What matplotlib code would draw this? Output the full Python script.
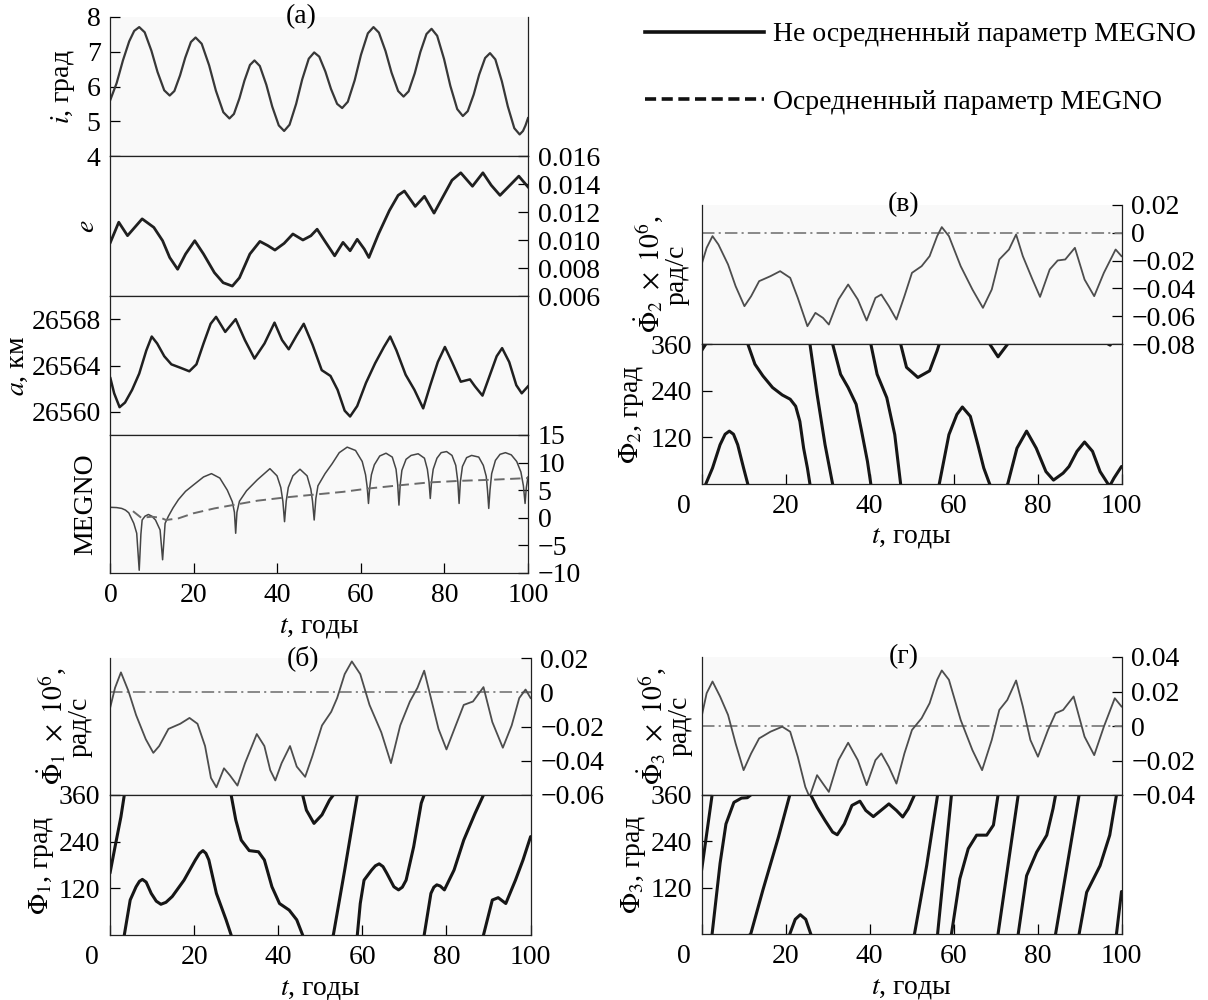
#!/usr/bin/python3
"""
MEGNO / orbital elements figure: panels (a), (б), (в), (г)
"""

import numpy as np
import matplotlib
matplotlib.use('Agg')
from matplotlib import pyplot as plt
from matplotlib.lines import Line2D

# ---- data (t in years) ----
incl_t = [0, 1.5, 3.0, 4.5, 5.7, 6.9, 8.21, 9.82, 11.28, 12.89, 14.2, 15.32, 16.68, 17.92, 19.28, 20.4,
          21.86, 23.64, 25.26, 27.04, 28.5, 29.58, 30.9, 32.1, 33.42, 34.5, 35.78, 37.34, 38.76, 40.32, 41.6,
          42.9, 44.48, 45.92, 47.5, 48.8, 50.01, 51.48, 52.82, 54.29, 55.5, 56.85, 58.5, 60.0, 61.65, 63.0,
          64.3, 65.88, 67.32, 68.9, 70.2, 71.41, 72.88, 74.22, 75.69, 76.9, 78.25, 79.9, 81.4, 83.05, 84.4,
          85.57, 87.0, 88.3, 89.73, 90.9, 92.18, 93.74, 95.16, 96.72, 98.0, 98.8, 99.4, 100]
incl_v = [5.62, 6.1, 6.75, 7.3, 7.6, 7.71, 7.56, 7.03, 6.42, 5.89, 5.74, 5.87, 6.32, 6.83, 7.28, 7.41,
          7.23, 6.61, 5.88, 5.26, 5.08, 5.21, 5.66, 6.17, 6.62, 6.75, 6.59, 6.05, 5.42, 4.88, 4.72,
          4.90, 5.50, 6.20, 6.80, 6.98, 6.86, 6.43, 5.93, 5.50, 5.38, 5.56, 6.18, 6.91, 7.53, 7.71,
          7.55, 7.02, 6.40, 5.87, 5.71, 5.86, 6.38, 6.99, 7.51, 7.66, 7.46, 6.79, 6.02, 5.35, 5.15,
          5.29, 5.77, 6.34, 6.82, 6.96, 6.78, 6.15, 5.43, 4.80, 4.62, 4.72, 4.88, 5.09]

ecc_t = [0, 2.0, 4.1, 7.6, 10.4, 12.5, 14.2, 16.1, 18.0, 20.2, 22.3, 24.9, 27.0, 29.2, 30.9, 33.4, 35.8, 37.7,
         39.4, 41.6, 43.7, 46.1, 48.0, 49.5, 51.4, 53.7, 55.7, 57.4, 59.1, 60.8, 61.9, 64.2, 66.8, 68.9, 70.4,
         73.0, 75.2, 77.5, 79.6, 81.8, 83.9, 86.7, 89.2, 91.2, 93.3, 95.9, 97.8, 100]
ecc_v = [0.00983, 0.01127, 0.01031, 0.01151, 0.0109, 0.00995, 0.00875, 0.00791, 0.0090, 0.00995, 0.0090,
         0.00767, 0.00695, 0.00671, 0.0073, 0.0090, 0.0099, 0.0096, 0.00928, 0.00976, 0.01043, 0.0100,
         0.0103, 0.01077, 0.0099, 0.00887, 0.00983, 0.00923, 0.01005, 0.00935, 0.00875, 0.01043, 0.0121,
         0.01319, 0.0135, 0.0124, 0.01312, 0.01192, 0.01307, 0.01427, 0.0148, 0.01384, 0.0148, 0.01391,
         0.01319, 0.01398, 0.01456, 0.01379]

sma_t = [0, 0.9, 2.2, 3.5, 5.2, 6.9, 8.6, 9.9, 11.2, 12.9, 14.6, 16.8, 18.9, 20.6, 22.3, 24.0, 25.3, 27.5,
         30.0, 32.2, 34.5, 36.9, 39.3, 41.1, 42.7, 44.6, 46.3, 48.4, 50.6, 52.7, 54.4, 56.1, 57.4, 59.1, 61.2,
         63.4, 65.5, 67.0, 68.5, 70.7, 72.8, 74.9, 76.6, 78.4, 80.1, 81.8, 83.9, 86.1, 87.3, 89.1, 90.8, 92.5,
         93.8, 95.5, 97.2, 98.5, 100]
sma_v = [26562.9, 26561.6, 26560.4, 26560.8, 26561.9, 26563.3, 26565.3, 26566.5, 26565.9, 26564.8, 26564.1,
         26563.8, 26563.5, 26564.1, 26565.9, 26567.6, 26568.2, 26566.9, 26568.0, 26566.2, 26564.6, 26565.9,
         26567.7, 26566.2, 26565.4, 26566.6, 26567.6, 26565.8, 26563.6, 26563.1, 26561.9, 26560.1, 26559.6,
         26560.5, 26562.5, 26564.2, 26565.6, 26566.5, 26565.3, 26563.2, 26561.9, 26560.3, 26562.3, 26564.3,
         26565.6, 26564.3, 26562.6, 26562.8, 26562.2, 26561.4, 26563.1, 26564.8, 26565.5, 26564.3, 26562.3,
         26561.6, 26562.2]

megno_t = [0, 1.5, 2.7, 3.6, 4.4, 5.6, 6.3, 6.9, 7.3, 7.6, 8.3, 9.1, 9.9, 10.8, 11.9, 12.5, 13.1, 13.9, 15.0,
           16.3, 18.0, 19.8, 22.3, 24.2, 26.2, 28.0, 29.2, 29.7, 30.0, 30.3, 30.9, 32.6, 35.2, 38.2, 39.9,
           40.8, 41.3, 41.7, 42.1, 42.6, 43.7, 45.4, 47.1, 48.0, 48.4, 48.8, 49.2, 49.7, 51.4, 53.1, 54.8,
           56.7, 58.7, 60.3, 61.1, 61.5, 61.8, 62.1, 62.5, 63.2, 64.5, 66.0, 67.5, 68.4, 68.8, 69.1, 69.4,
           69.8, 70.8, 72.0, 73.7, 75.2, 75.9, 76.3, 76.6, 76.9, 77.3, 78.2, 79.2, 80.5, 81.8, 82.7, 83.2,
           83.5, 83.8, 84.3, 85.3, 86.5, 88.2, 89.3, 90.0, 90.3, 90.6, 90.9, 91.3, 92.2, 93.3, 94.6, 96.0,
           97.3, 98.3, 98.9, 99.3, 99.6, 100]
megno_v = [1.9, 1.85, 1.7, 1.4, 0.9, -1.0, -2.8, -9.5, -3.0, -0.4, 0.3, 0.6, 0.3, -0.4, -2.2, -7.6, -1.0, 0.3,
           1.8, 3.3, 4.8, 5.9, 7.4, 8.0, 7.2, 5.0, 2.9, 1.0, -2.8, 1.0, 3.0, 4.9, 6.9, 8.9, 7.6, 5.5, 3.0, -0.7,
           3.0, 5.5, 7.6, 8.8, 7.6, 5.2, 3.0, -0.4, 3.5, 5.8, 8.0, 9.8, 11.8, 12.8, 12.2, 10.2, 7.8, 5.5, 2.6,
           5.5, 7.8, 9.6, 11.2, 11.7, 11.0, 8.8, 6.0, 2.3, 6.0, 8.6, 10.6, 11.3, 11.6, 10.8, 8.8, 6.5, 3.5,
           6.5, 8.8, 10.8, 11.8, 12.0, 11.3, 9.5, 6.5, 2.6, 6.5, 9.3, 10.9, 11.3, 11.0, 9.5, 7.5, 5.0, 1.7,
           5.0, 8.0, 10.4, 11.5, 11.8, 11.4, 10.2, 8.3, 5.8, 2.6, 5.5, 7.4]

megno_avg_t = [5.4, 7.4, 9.9, 12.1, 13.3, 16.3, 19.8, 24.9, 30.0, 35.2, 42.0, 48.8, 55.7, 61.7, 69.4, 76.2,
               83.9, 91.6, 100]
megno_avg_v = [1.2, 0.0, 0.2, 0.0, -0.4, -0.1, 0.8, 1.7, 2.4, 3.1, 3.7, 4.2, 4.7, 5.3, 5.9, 6.4, 6.7, 6.9, 7.2]

# resonance angle rates (x 1e6 rad/s)
dphi1_t = [0, 1.2, 2.6, 4.4, 6.2, 8.5, 10.3, 11.7, 13.9, 16.7, 18.9, 20.8, 22.6, 24.0, 25.3, 27.1, 28.5,
           30.3, 32.1, 34.9, 36.7, 38.1, 39.3, 40.8, 42.8, 44.4, 46.4, 48.1, 50.4, 52.6, 54.0, 55.8, 57.5,
           59.5, 61.7, 64.5, 66.8, 69.0, 71.3, 73.1, 74.7, 76.3, 78.1, 80.0, 82.2, 84.1, 86.3, 88.8, 90.9,
           93.4, 95.5, 97.3, 98.8, 100]
dphi1_v = [-0.0094, 0.0026, 0.0116, 0.0006, -0.0133, -0.0274, -0.0354, -0.0314, -0.0214, -0.0184, -0.015,
           -0.0184, -0.0314, -0.050, -0.0555, -0.0444, -0.0485, -0.0545, -0.0414, -0.0244, -0.0314, -0.0455,
           -0.0515, -0.0414, -0.0314, -0.0434, -0.0494, -0.0374, -0.0194, -0.0114, -0.0034, 0.0106, 0.018,
           0.0106, -0.0074, -0.0234, -0.0414, -0.0194, -0.0054, 0.0026, 0.0126, -0.0034, -0.0214, -0.0334,
           -0.0194, -0.0074, -0.0054, 0.003, -0.0174, -0.0324, -0.0194, -0.0034, 0.0016, -0.0034]

dphi2_t = [0, 1.2, 2.6, 4.0, 6.3, 8.1, 10.2, 11.8, 13.7, 16.4, 18.7, 21.1, 22.9, 25.2, 27.1, 28.9, 30.3,
           32.6, 34.9, 37.2, 39.3, 41.4, 42.8, 44.6, 46.4, 48.3, 50.1, 52.4, 54.3, 56.1, 57.2, 58.9, 61.7,
           64.5, 67.0, 69.1, 70.9, 73.2, 74.9, 76.5, 78.8, 80.6, 82.9, 84.8, 86.6, 88.9, 91.2, 93.5, 95.8,
           98.6, 100]
dphi2_v = [-0.0228, -0.0108, -0.0024, -0.0084, -0.0228, -0.0384, -0.0528, -0.0456, -0.0348, -0.0312, -0.0276,
           -0.0324, -0.0468, -0.0672, -0.0576, -0.0612, -0.066, -0.048, -0.0372, -0.048, -0.0631, -0.0468,
           -0.0444, -0.0528, -0.0624, -0.0456, -0.0288, -0.024, -0.0168, -0.0024, 0.0041, -0.0024, -0.024,
           -0.0408, -0.054, -0.0408, -0.0192, -0.012, -0.0012, -0.0168, -0.0336, -0.0461, -0.0264, -0.0199,
           -0.0192, -0.0108, -0.0336, -0.0456, -0.0288, -0.012, -0.0168]

dphi3_t = [0, 1.2, 2.6, 4.4, 6.3, 8.1, 10.0, 11.8, 13.7, 16.4, 19.2, 21.1, 22.9, 24.7, 25.7, 27.5, 28.9,
           30.3, 32.6, 34.9, 37.2, 39.3, 41.4, 42.8, 44.6, 46.4, 48.3, 50.1, 52.4, 54.3, 56.1, 57.2, 58.9,
           61.7, 64.5, 66.8, 69.1, 70.9, 72.8, 74.9, 76.5, 78.3, 80.1, 82.5, 84.3, 86.1, 88.6, 91.2, 93.5,
           95.8, 98.4, 100]
dphi3_v = [0.0054, 0.019, 0.0258, 0.0171, 0.0064, -0.0101, -0.0256, -0.0159, -0.0072, -0.0033, -0.0004,
           -0.0033, -0.0178, -0.0353, -0.0411, -0.0285, -0.0334, -0.0382, -0.0198, -0.0097, -0.0198, -0.0343,
           -0.0198, -0.0159, -0.0237, -0.0334, -0.0159, -0.0023, 0.0045, 0.0132, 0.0268, 0.0322, 0.0268,
           0.0035, -0.014, -0.0256, -0.0081, 0.0093, 0.0151, 0.0264, 0.0113, -0.0081, -0.0178, -0.0023,
           0.0074, 0.0093, 0.0171, -0.0062, -0.0169, -0.0004, 0.0161, 0.0113]

# resonance angles, unwrapped (deg); shown modulo 360
phi1_t = [0, 1.2, 2.6, 3.4, 4.8, 6.2, 7.0, 7.7, 8.6, 9.8, 11.0, 12.1, 13.3, 14.8, 17.6, 20.3, 21.3, 22.1,
          22.8, 23.5, 25.3, 27.6, 28.8, 29.9, 31.2, 33.1, 35.3, 36.7, 38.5, 40.3, 42.6, 44.4, 45.8, 46.7,
          48.5, 50.4, 52.2, 53.1, 55.8, 58.8, 59.5, 60.4, 62.2, 63.1, 64.0, 64.9, 65.8, 67.5, 68.6, 69.5,
          70.4, 72.2, 74.0, 74.7, 76.3, 77.0, 77.7, 78.5, 79.5, 81.8, 84.1, 86.8, 88.8, 90.9, 92.3, 94.1,
          96.4, 98.2, 100]
phi1_v = [159, 227, 304, 360, 450, 484, 498, 503, 496, 467, 447, 439, 444, 459, 501, 553, 570, 577,
          570, 553, 467, 399, 360, 296, 244, 217, 214, 193, 124, 81, 64, 39, 0, -39,
          -73, -51, -13, 0, 167, 360, 441, 501, 527, 538, 543, 536, 519, 484, 476, 483,
          501, 587, 699, 720, 827, 843, 849, 846, 836, 887, 964, 1033, 1080, 1170, 1176, 1161,
          1221, 1273, 1333]

phi2_t = [0, 1.0, 2.6, 4.4, 5.6, 6.6, 7.6, 8.6, 10.0, 11.0, 12.7, 14.6, 16.9, 19.2, 21.1, 22.4, 23.4, 24.3,
          25.2, 25.8, 27.5, 29.4, 31.2, 33.1, 34.9, 36.8, 38.1, 39.5, 40.3, 41.8, 44.1, 46.0, 47.4, 48.8,
          51.5, 54.3, 56.1, 56.6, 58.9, 60.8, 62.1, 64.0, 65.8, 67.2, 68.6, 70.6, 72.9, 75.1, 77.4, 79.7,
          82.0, 83.8, 86.1, 87.5, 89.4, 91.2, 93.1, 94.9, 96.8, 97.3, 98.2, 100]
phi2_v = [343, 360, 401, 461, 488, 496, 488, 461, 401, 360, 308, 278, 248, 229, 218, 200, 161, 92,
          41, 0, -129, -259, -360, -438, -472, -515, -584, -662, -720, -798, -858, -953, -1080, -1140,
          -1166, -1149, -1097, -1080, -953, -901, -882, -906, -979, -1039, -1080, -1113, -1080, -988, -944,
          -988, -1048, -1070, -1052, -1035, -996, -972, -996, -1048, -1080, -1083, -1065, -1035]

phi3_t = [0, 2.5, 4.4, 5.8, 7.7, 9.5, 10.9, 11.7, 14.6, 18.3, 21.0, 22.3, 23.5, 24.8, 26.0, 27.5, 29.4, 31.2,
          32.3, 34.0, 35.8, 37.7, 39.1, 40.9, 42.7, 44.6, 46.4, 47.9, 49.2, 50.7, 53.6, 56.2, 59.5, 61.5, 63.5,
          65.5, 67.9, 69.5, 70.6, 75.4, 77.4, 79.8, 82.2, 83.7, 84.3, 89.9, 91.7, 94.9, 97.2, 98.8, 100]
phi3_v = [165, 360, 543, 645, 701, 712, 713, 720, 834, 971, 1080, 1118, 1130, 1118, 1080, 1048, 1014, 984,
          977, 1005, 1053, 1064, 1040, 1024, 1040, 1057, 1040, 1023, 1044, 1080, 1257, 1440, 1800, 1943, 2021,
          2056, 2056, 2082, 2160, 2520, 2671, 2732, 2776, 2845, 2880, 3240, 3348, 3417, 3496, 3600, 3710]

FIG_W, FIG_H = 1208, 1000
FS = 20

plt.rcParams['font.family'] = ['Liberation Serif', 'DejaVu Serif']
plt.rcParams['mathtext.fontset'] = 'stix'
plt.rcParams['font.size'] = FS
plt.rcParams['lines.scale_dashes'] = False
plt.rcParams['axes.linewidth'] = 0.9
plt.rcParams['axes.edgecolor'] = '#222222'

T_LABEL = r'$t$, годы'
BG = '#f9f9f9'


def add_box(fig, left, right, top, bottom):
    """axes from pixel box (y measured from the top of the figure)"""
    ax = fig.add_axes([left / FIG_W, 1 - bottom / FIG_H, (right - left) / FIG_W, (bottom - top) / FIG_H])
    ax.set_facecolor(BG)
    ax.set_xlim(0, 100)
    ax.tick_params(direction='in', length=7, width=0.9, labelsize=FS, pad=7,
                   top=False, bottom=False, left=False, right=False,
                   labeltop=False, labelbottom=False, labelleft=False, labelright=False)
    return ax


def place_ylabel(ax, text, x_px):
    ax.set_ylabel(text, fontsize=FS, linespacing=1.0)
    box = ax.get_position()
    x0 = box.x0 * FIG_W
    w = box.width * FIG_W
    ax.yaxis.set_label_coords((x_px - x0) / w, 0.5)
    ax.yaxis.label.set_va('center')
    ax.yaxis.label.set_ha('center')


def bottom_axis(ax, shifted_zero=False):
    ax.tick_params(bottom=True, labelbottom=True)
    ax.set_xticks([0, 20, 40, 60, 80, 100])
    if shifted_zero:
        ax.set_xticklabels(['', '20', '40', '60', '80', '100'])
        ax.annotate('0', xy=(0, 0), xycoords=('data', 'axes fraction'), xytext=(-13, -7),
                    textcoords='offset points', ha='center', va='top', fontsize=FS)
    h = ax.get_position().height * FIG_H
    ax.set_xlabel(T_LABEL, fontsize=FS)
    ax.xaxis.set_label_coords(0.5, -54 / h)
    ax.xaxis.label.set_va('center')


def panel_title(ax, text, x):
    ax.text(x, 1.0, text, transform=ax.transAxes, ha='center', va='center', fontsize=FS)


def plot_wrapped(ax, t, phase):
    phase = np.asarray(phase, dtype=float)
    k_lo = int(np.floor(phase.min() / 360.0))
    k_hi = int(np.floor(phase.max() / 360.0))
    for k in range(k_lo, k_hi + 1):
        ax.plot(t, phase - 360.0 * k, color='#161616', lw=2.2, solid_capstyle='round')
    ax.set_ylim(0, 360)
    ax.set_yticks([120, 240, 360])
    ax.tick_params(left=True, labelleft=True)


def rate_panel(ax, t, v, lo, hi, ticks):
    ax.axhline(0, color='#808080', lw=1.3, linestyle=(0, (9, 3, 1.5, 3)))
    ax.plot(t, v, color='#4d4d4d', lw=1.3)
    ax.set_ylim(lo, hi)
    ax.set_yticks(ticks)
    ax.set_yticklabels(['{:g}'.format(x).replace('-', '\u2212') for x in ticks])
    ax.tick_params(right=True, labelright=True)
    ax.spines['top'].set_visible(False)


def resonance_panel(fig, box_x, top, mid, bottom, dt, dv, lo, hi, ticks, pt, pv, idx, title,
                    lab_rate_x, lab_phi_x, title_x):
    ax_r = add_box(fig, box_x[0], box_x[1], top, mid)
    ax_p = add_box(fig, box_x[0], box_x[1], mid, bottom)
    rate_panel(ax_r, dt, dv, lo, hi, ticks)
    plot_wrapped(ax_p, pt, pv)
    bottom_axis(ax_p, shifted_zero=True)
    place_ylabel(ax_r, r'$\dot{\Phi}_%d\ \times\ 10^6$,' % idx + '\nрад/с', lab_rate_x)
    place_ylabel(ax_p, r'$\Phi_%d$, град' % idx, lab_phi_x)
    panel_title(ax_r, title, title_x)
    return ax_r, ax_p


def main():
    fig = plt.figure(figsize=(FIG_W / 100, FIG_H / 100), dpi=100)

    # ---- panel (a) ----
    ax_i = add_box(fig, 110.4, 528, 17, 156)
    ax_i.plot(incl_t, incl_v, color='#383838', lw=1.6)
    ax_i.set_ylim(4, 8)
    ax_i.set_yticks([4, 5, 6, 7, 8])
    ax_i.tick_params(left=True, labelleft=True)
    ax_i.spines['top'].set_visible(False)
    place_ylabel(ax_i, r'$i$, град', 63)
    panel_title(ax_i, '(a)', 0.456)

    ax_e = add_box(fig, 110.4, 528, 156, 296)
    ax_e.plot(ecc_t, ecc_v, color='#202020', lw=2.0)
    ax_e.set_ylim(0.006, 0.016)
    ax_e.set_yticks([0.006, 0.008, 0.010, 0.012, 0.014, 0.016])
    ax_e.set_yticklabels(['0.006', '0.008', '0.010', '0.012', '0.014', '0.016'])
    ax_e.tick_params(right=True, labelright=True)
    place_ylabel(ax_e, r'$e$', 87)

    ax_a = add_box(fig, 110.4, 528, 296, 435)
    ax_a.plot(sma_t, sma_v, color='#202020', lw=1.8)
    ax_a.set_ylim(26558, 26570)
    ax_a.set_yticks([26560, 26564, 26568])
    ax_a.set_yticklabels(['26560', '26564', '26568'])
    ax_a.tick_params(left=True, labelleft=True)
    place_ylabel(ax_a, r'$a$, км', 17)

    ax_m = add_box(fig, 110.4, 528, 435, 573)
    ax_m.plot(megno_t, megno_v, color='#454545', lw=1.1)
    ax_m.plot(megno_avg_t, megno_avg_v, color='#6a6a6a', lw=1.4, linestyle=(0, (7.5, 4)))
    ax_m.set_ylim(-10, 15)
    ax_m.set_yticks([-10, -5, 0, 5, 10, 15])
    ax_m.set_yticklabels(['\u221210', '\u22125', '0', '5', '10', '15'])
    ax_m.tick_params(right=True, labelright=True)
    place_ylabel(ax_m, 'MEGNO', 86)
    bottom_axis(ax_m)

    # ---- panels (в), (б), (г) ----
    resonance_panel(fig, (701.6, 1121.5), 205, 344, 484, dphi2_t, dphi2_v, -0.08, 0.02,
                    [-0.08, -0.06, -0.04, -0.02, 0, 0.02], phi2_t, phi2_v, 2, '(в)', 661, 631, 0.482)
    resonance_panel(fig, (110, 530.6), 658, 795, 935, dphi1_t, dphi1_v, -0.06, 0.02,
                    [-0.06, -0.04, -0.02, 0, 0.02], phi1_t, phi1_v, 1, '(б)', 64, 41, 0.458)
    resonance_panel(fig, (701.6, 1121.5), 657, 795, 934, dphi3_t, dphi3_v, -0.04, 0.04,
                    [-0.04, -0.02, 0, 0.02, 0.04], phi3_t, phi3_v, 3, '(г)', 664, 633, 0.482)

    # ---- legend ----
    handles = [Line2D([], [], color='#111111', lw=2.6),
               Line2D([], [], color='#111111', lw=2.6, linestyle=(0, (8, 4)))]
    fig.legend(handles, ['Не осредненный параметр MEGNO', 'Осредненный параметр MEGNO'],
               loc='upper left', bbox_to_anchor=(645 / FIG_W, 1 - 22 / FIG_H), frameon=False,
               fontsize=FS, handlelength=4.3, handletextpad=0.32, labelspacing=1.5,
               borderpad=0, borderaxespad=0)

    fig.savefig('out.png', dpi=100)


if __name__ == '__main__':
    main()
